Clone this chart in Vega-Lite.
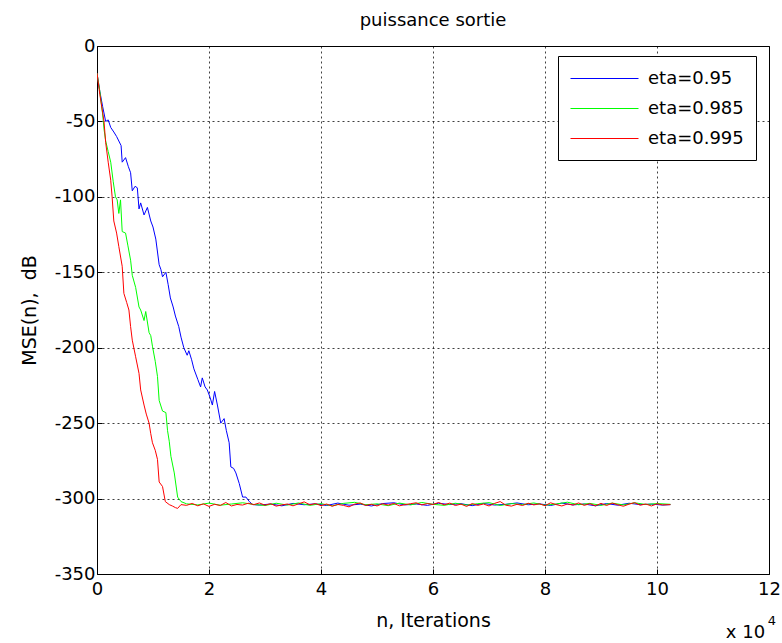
{
"$schema": "https://vega.github.io/schema/vega-lite/v6.json",
"width": 672, "height": 528,
"autosize": "none",
"padding": {"left": 97, "top": 46, "right": 13, "bottom": 69},
"background": "#ffffff",
"title": {"text": "puissance sortie", "fontSize": 18, "fontWeight": "normal", "font": "DejaVu Sans", "color": "#000", "offset": 7},
"config": {
  "font": "DejaVu Sans",
  "view": {"stroke": "#000", "strokeWidth": 1},
  "axis": {"labelFont": "DejaVu Sans", "labelFontSize": 18, "labelColor": "#000", "titleFont": "DejaVu Sans", "titleFontSize": 19, "titleFontWeight": "normal", "titleColor": "#000", "domainColor": "#000", "tickColor": "#000", "gridColor": "#000", "gridDash": [2, 3], "gridOpacity": 0.75, "gridWidth": 1}
},
"layer": [
{
"data": {"values": [
{"s":"eta=0.95","x":0,"y":-18},{"s":"eta=0.95","x":0.05,"y":-30},{"s":"eta=0.95","x":0.1,"y":-40},{"s":"eta=0.95","x":0.155,"y":-50},{"s":"eta=0.95","x":0.2,"y":-49},{"s":"eta=0.95","x":0.245,"y":-54},{"s":"eta=0.95","x":0.3,"y":-57},{"s":"eta=0.95","x":0.35,"y":-60},{"s":"eta=0.95","x":0.43,"y":-66},{"s":"eta=0.95","x":0.45,"y":-77},{"s":"eta=0.95","x":0.51,"y":-74},{"s":"eta=0.95","x":0.56,"y":-80},{"s":"eta=0.95","x":0.6,"y":-84},{"s":"eta=0.95","x":0.63,"y":-96},{"s":"eta=0.95","x":0.68,"y":-93},{"s":"eta=0.95","x":0.72,"y":-94},{"s":"eta=0.95","x":0.75,"y":-108},{"s":"eta=0.95","x":0.78,"y":-104},{"s":"eta=0.95","x":0.84,"y":-112},{"s":"eta=0.95","x":0.9,"y":-107},{"s":"eta=0.95","x":0.96,"y":-116},{"s":"eta=0.95","x":1.0,"y":-120},{"s":"eta=0.95","x":1.05,"y":-128},{"s":"eta=0.95","x":1.11,"y":-145},{"s":"eta=0.95","x":1.14,"y":-148},{"s":"eta=0.95","x":1.17,"y":-153},{"s":"eta=0.95","x":1.23,"y":-150},{"s":"eta=0.95","x":1.27,"y":-158},{"s":"eta=0.95","x":1.31,"y":-167},{"s":"eta=0.95","x":1.36,"y":-173},{"s":"eta=0.95","x":1.4,"y":-179},{"s":"eta=0.95","x":1.46,"y":-186},{"s":"eta=0.95","x":1.5,"y":-193},{"s":"eta=0.95","x":1.55,"y":-200},{"s":"eta=0.95","x":1.61,"y":-205},{"s":"eta=0.95","x":1.64,"y":-202},{"s":"eta=0.95","x":1.69,"y":-208},{"s":"eta=0.95","x":1.73,"y":-214},{"s":"eta=0.95","x":1.8,"y":-221},{"s":"eta=0.95","x":1.85,"y":-226},{"s":"eta=0.95","x":1.88,"y":-220},{"s":"eta=0.95","x":1.93,"y":-226},{"s":"eta=0.95","x":1.97,"y":-228},{"s":"eta=0.95","x":2.02,"y":-233},{"s":"eta=0.95","x":2.06,"y":-238},{"s":"eta=0.95","x":2.1,"y":-229},{"s":"eta=0.95","x":2.15,"y":-238},{"s":"eta=0.95","x":2.21,"y":-250},{"s":"eta=0.95","x":2.27,"y":-247},{"s":"eta=0.95","x":2.31,"y":-255},{"s":"eta=0.95","x":2.36,"y":-263},{"s":"eta=0.95","x":2.39,"y":-279},{"s":"eta=0.95","x":2.44,"y":-280},{"s":"eta=0.95","x":2.48,"y":-283},{"s":"eta=0.95","x":2.54,"y":-290},{"s":"eta=0.95","x":2.6,"y":-299},{"s":"eta=0.95","x":2.66,"y":-299},{"s":"eta=0.95","x":2.72,"y":-302},{"s":"eta=0.95","x":2.78,"y":-304},
{"s":"eta=0.95","x":2.9,"y":-304.3},{"s":"eta=0.95","x":3.1,"y":-303.6},{"s":"eta=0.95","x":3.3,"y":-304.8},{"s":"eta=0.95","x":3.5,"y":-303.2},{"s":"eta=0.95","x":3.7,"y":-304.1},{"s":"eta=0.95","x":3.9,"y":-303.5},{"s":"eta=0.95","x":4.1,"y":-304.6},{"s":"eta=0.95","x":4.3,"y":-303.0},{"s":"eta=0.95","x":4.5,"y":-304.4},{"s":"eta=0.95","x":4.7,"y":-303.7},{"s":"eta=0.95","x":4.9,"y":-304.9},{"s":"eta=0.95","x":5.1,"y":-303.3},{"s":"eta=0.95","x":5.3,"y":-302.8},{"s":"eta=0.95","x":5.5,"y":-304.2},{"s":"eta=0.95","x":5.7,"y":-303.6},{"s":"eta=0.95","x":5.9,"y":-304.5},{"s":"eta=0.95","x":6.1,"y":-303.1},{"s":"eta=0.95","x":6.3,"y":-304.0},{"s":"eta=0.95","x":6.5,"y":-303.4},{"s":"eta=0.95","x":6.7,"y":-304.7},{"s":"eta=0.95","x":6.9,"y":-303.2},{"s":"eta=0.95","x":7.1,"y":-304.3},{"s":"eta=0.95","x":7.3,"y":-303.8},{"s":"eta=0.95","x":7.5,"y":-302.9},{"s":"eta=0.95","x":7.7,"y":-304.1},{"s":"eta=0.95","x":7.9,"y":-303.5},{"s":"eta=0.95","x":8.1,"y":-304.6},{"s":"eta=0.95","x":8.3,"y":-303.0},{"s":"eta=0.95","x":8.5,"y":-304.2},{"s":"eta=0.95","x":8.7,"y":-303.6},{"s":"eta=0.95","x":8.9,"y":-304.8},{"s":"eta=0.95","x":9.1,"y":-303.3},{"s":"eta=0.95","x":9.3,"y":-304.4},{"s":"eta=0.95","x":9.5,"y":-303.1},{"s":"eta=0.95","x":9.7,"y":-304.0},{"s":"eta=0.95","x":9.9,"y":-303.7},{"s":"eta=0.95","x":10.1,"y":-304.3},{"s":"eta=0.95","x":10.24,"y":-304.0},
{"s":"eta=0.985","x":0,"y":-18},{"s":"eta=0.985","x":0.05,"y":-30},{"s":"eta=0.985","x":0.1,"y":-45},{"s":"eta=0.985","x":0.125,"y":-55},{"s":"eta=0.985","x":0.155,"y":-63},{"s":"eta=0.985","x":0.2,"y":-70},{"s":"eta=0.985","x":0.245,"y":-77},{"s":"eta=0.985","x":0.29,"y":-90},{"s":"eta=0.985","x":0.33,"y":-100},{"s":"eta=0.985","x":0.36,"y":-102},{"s":"eta=0.985","x":0.39,"y":-111},{"s":"eta=0.985","x":0.42,"y":-102},{"s":"eta=0.985","x":0.45,"y":-123},{"s":"eta=0.985","x":0.51,"y":-124},{"s":"eta=0.985","x":0.55,"y":-132},{"s":"eta=0.985","x":0.6,"y":-142},{"s":"eta=0.985","x":0.63,"y":-152},{"s":"eta=0.985","x":0.69,"y":-160},{"s":"eta=0.985","x":0.75,"y":-173},{"s":"eta=0.985","x":0.78,"y":-175},{"s":"eta=0.985","x":0.84,"y":-182},{"s":"eta=0.985","x":0.87,"y":-176},{"s":"eta=0.985","x":0.93,"y":-190},{"s":"eta=0.985","x":0.96,"y":-192},{"s":"eta=0.985","x":0.99,"y":-199},{"s":"eta=0.985","x":1.04,"y":-209},{"s":"eta=0.985","x":1.08,"y":-219},{"s":"eta=0.985","x":1.11,"y":-235},{"s":"eta=0.985","x":1.17,"y":-242},{"s":"eta=0.985","x":1.23,"y":-243},{"s":"eta=0.985","x":1.26,"y":-255},{"s":"eta=0.985","x":1.29,"y":-262},{"s":"eta=0.985","x":1.32,"y":-272},{"s":"eta=0.985","x":1.38,"y":-283},{"s":"eta=0.985","x":1.44,"y":-299},{"s":"eta=0.985","x":1.5,"y":-302},
{"s":"eta=0.985","x":1.6,"y":-303.5},{"s":"eta=0.985","x":1.8,"y":-304.2},{"s":"eta=0.985","x":2.0,"y":-303.0},{"s":"eta=0.985","x":2.2,"y":-304.4},{"s":"eta=0.985","x":2.4,"y":-303.6},{"s":"eta=0.985","x":2.6,"y":-302.8},{"s":"eta=0.985","x":2.8,"y":-303.9},{"s":"eta=0.985","x":3.0,"y":-304.6},{"s":"eta=0.985","x":3.2,"y":-303.1},{"s":"eta=0.985","x":3.4,"y":-304.3},{"s":"eta=0.985","x":3.6,"y":-302.9},{"s":"eta=0.985","x":3.8,"y":-304.5},{"s":"eta=0.985","x":4.0,"y":-303.4},{"s":"eta=0.985","x":4.2,"y":-304.8},{"s":"eta=0.985","x":4.4,"y":-303.2},{"s":"eta=0.985","x":4.6,"y":-302.5},{"s":"eta=0.985","x":4.8,"y":-304.1},{"s":"eta=0.985","x":5.0,"y":-303.5},{"s":"eta=0.985","x":5.2,"y":-304.7},{"s":"eta=0.985","x":5.4,"y":-303.0},{"s":"eta=0.985","x":5.6,"y":-304.2},{"s":"eta=0.985","x":5.8,"y":-302.6},{"s":"eta=0.985","x":6.0,"y":-303.8},{"s":"eta=0.985","x":6.2,"y":-304.5},{"s":"eta=0.985","x":6.4,"y":-303.1},{"s":"eta=0.985","x":6.6,"y":-304.3},{"s":"eta=0.985","x":6.8,"y":-303.4},{"s":"eta=0.985","x":7.0,"y":-302.7},{"s":"eta=0.985","x":7.2,"y":-304.6},{"s":"eta=0.985","x":7.4,"y":-303.3},{"s":"eta=0.985","x":7.6,"y":-304.0},{"s":"eta=0.985","x":7.8,"y":-302.9},{"s":"eta=0.985","x":8.0,"y":-304.4},{"s":"eta=0.985","x":8.2,"y":-303.6},{"s":"eta=0.985","x":8.4,"y":-302.4},{"s":"eta=0.985","x":8.6,"y":-304.1},{"s":"eta=0.985","x":8.8,"y":-303.2},{"s":"eta=0.985","x":9.0,"y":-304.5},{"s":"eta=0.985","x":9.2,"y":-303.0},{"s":"eta=0.985","x":9.4,"y":-304.2},{"s":"eta=0.985","x":9.6,"y":-302.8},{"s":"eta=0.985","x":9.8,"y":-303.9},{"s":"eta=0.985","x":10.0,"y":-303.3},{"s":"eta=0.985","x":10.24,"y":-303.8},
{"s":"eta=0.995","x":0,"y":-18},{"s":"eta=0.995","x":0.05,"y":-32},{"s":"eta=0.995","x":0.1,"y":-44},{"s":"eta=0.995","x":0.125,"y":-50},{"s":"eta=0.995","x":0.155,"y":-64},{"s":"eta=0.995","x":0.2,"y":-77},{"s":"eta=0.995","x":0.245,"y":-89},{"s":"eta=0.995","x":0.27,"y":-100},{"s":"eta=0.995","x":0.3,"y":-116},{"s":"eta=0.995","x":0.35,"y":-124},{"s":"eta=0.995","x":0.39,"y":-133},{"s":"eta=0.995","x":0.45,"y":-146},{"s":"eta=0.995","x":0.48,"y":-164},{"s":"eta=0.995","x":0.53,"y":-170},{"s":"eta=0.995","x":0.57,"y":-175},{"s":"eta=0.995","x":0.6,"y":-186},{"s":"eta=0.995","x":0.63,"y":-195},{"s":"eta=0.995","x":0.69,"y":-206},{"s":"eta=0.995","x":0.75,"y":-217},{"s":"eta=0.995","x":0.78,"y":-228},{"s":"eta=0.995","x":0.84,"y":-238},{"s":"eta=0.995","x":0.88,"y":-244},{"s":"eta=0.995","x":0.93,"y":-250},{"s":"eta=0.995","x":0.96,"y":-257},{"s":"eta=0.995","x":0.99,"y":-263},{"s":"eta=0.995","x":1.04,"y":-268},{"s":"eta=0.995","x":1.08,"y":-274},{"s":"eta=0.995","x":1.11,"y":-289},{"s":"eta=0.995","x":1.17,"y":-292},{"s":"eta=0.995","x":1.22,"y":-302},{"s":"eta=0.995","x":1.29,"y":-304},{"s":"eta=0.995","x":1.35,"y":-305},{"s":"eta=0.995","x":1.4,"y":-306},{"s":"eta=0.995","x":1.44,"y":-306.5},{"s":"eta=0.995","x":1.5,"y":-304},
{"s":"eta=0.995","x":1.6,"y":-304.5},{"s":"eta=0.995","x":1.7,"y":-303.2},{"s":"eta=0.995","x":1.8,"y":-304.8},{"s":"eta=0.995","x":1.9,"y":-303.5},{"s":"eta=0.995","x":2.0,"y":-305.2},{"s":"eta=0.995","x":2.1,"y":-303.8},{"s":"eta=0.995","x":2.2,"y":-304.6},{"s":"eta=0.995","x":2.3,"y":-302.6},{"s":"eta=0.995","x":2.4,"y":-304.9},{"s":"eta=0.995","x":2.5,"y":-303.9},{"s":"eta=0.995","x":2.6,"y":-304.3},{"s":"eta=0.995","x":2.7,"y":-303.1},{"s":"eta=0.995","x":2.8,"y":-304.0},{"s":"eta=0.995","x":2.9,"y":-302.9},{"s":"eta=0.995","x":3.0,"y":-304.4},{"s":"eta=0.995","x":3.1,"y":-303.4},{"s":"eta=0.995","x":3.2,"y":-305.0},{"s":"eta=0.995","x":3.3,"y":-304.2},{"s":"eta=0.995","x":3.4,"y":-303.6},{"s":"eta=0.995","x":3.5,"y":-304.8},{"s":"eta=0.995","x":3.6,"y":-303.5},{"s":"eta=0.995","x":3.7,"y":-302.2},{"s":"eta=0.995","x":3.8,"y":-304.1},{"s":"eta=0.995","x":3.9,"y":-303.3},{"s":"eta=0.995","x":4.0,"y":-304.7},{"s":"eta=0.995","x":4.1,"y":-303.6},{"s":"eta=0.995","x":4.2,"y":-305.1},{"s":"eta=0.995","x":4.3,"y":-303.9},{"s":"eta=0.995","x":4.4,"y":-304.5},{"s":"eta=0.995","x":4.5,"y":-305.5},{"s":"eta=0.995","x":4.6,"y":-303.7},{"s":"eta=0.995","x":4.7,"y":-302.9},{"s":"eta=0.995","x":4.8,"y":-304.6},{"s":"eta=0.995","x":4.9,"y":-303.8},{"s":"eta=0.995","x":5.0,"y":-304.9},{"s":"eta=0.995","x":5.1,"y":-303.4},{"s":"eta=0.995","x":5.2,"y":-304.3},{"s":"eta=0.995","x":5.3,"y":-303.2},{"s":"eta=0.995","x":5.4,"y":-304.8},{"s":"eta=0.995","x":5.5,"y":-304.0},{"s":"eta=0.995","x":5.6,"y":-303.4},{"s":"eta=0.995","x":5.7,"y":-302.8},{"s":"eta=0.995","x":5.8,"y":-304.2},{"s":"eta=0.995","x":5.9,"y":-303.3},{"s":"eta=0.995","x":6.0,"y":-303.9},{"s":"eta=0.995","x":6.1,"y":-302.6},{"s":"eta=0.995","x":6.2,"y":-304.1},{"s":"eta=0.995","x":6.3,"y":-303.0},{"s":"eta=0.995","x":6.4,"y":-304.6},{"s":"eta=0.995","x":6.5,"y":-303.7},{"s":"eta=0.995","x":6.6,"y":-305.2},{"s":"eta=0.995","x":6.7,"y":-303.3},{"s":"eta=0.995","x":6.8,"y":-304.5},{"s":"eta=0.995","x":6.9,"y":-303.6},{"s":"eta=0.995","x":7.0,"y":-304.9},{"s":"eta=0.995","x":7.1,"y":-303.2},{"s":"eta=0.995","x":7.2,"y":-302.0},{"s":"eta=0.995","x":7.3,"y":-304.4},{"s":"eta=0.995","x":7.4,"y":-305.0},{"s":"eta=0.995","x":7.5,"y":-303.8},{"s":"eta=0.995","x":7.6,"y":-304.6},{"s":"eta=0.995","x":7.7,"y":-303.1},{"s":"eta=0.995","x":7.8,"y":-304.2},{"s":"eta=0.995","x":7.9,"y":-303.5},{"s":"eta=0.995","x":8.0,"y":-304.7},{"s":"eta=0.995","x":8.1,"y":-302.8},{"s":"eta=0.995","x":8.2,"y":-304.0},{"s":"eta=0.995","x":8.3,"y":-304.9},{"s":"eta=0.995","x":8.4,"y":-303.6},{"s":"eta=0.995","x":8.5,"y":-304.3},{"s":"eta=0.995","x":8.6,"y":-302.9},{"s":"eta=0.995","x":8.7,"y":-304.5},{"s":"eta=0.995","x":8.8,"y":-303.4},{"s":"eta=0.995","x":8.9,"y":-304.8},{"s":"eta=0.995","x":9.0,"y":-303.2},{"s":"eta=0.995","x":9.1,"y":-304.6},{"s":"eta=0.995","x":9.2,"y":-303.0},{"s":"eta=0.995","x":9.3,"y":-304.1},{"s":"eta=0.995","x":9.4,"y":-305.1},{"s":"eta=0.995","x":9.5,"y":-303.7},{"s":"eta=0.995","x":9.6,"y":-302.7},{"s":"eta=0.995","x":9.7,"y":-304.4},{"s":"eta=0.995","x":9.8,"y":-303.6},{"s":"eta=0.995","x":9.9,"y":-304.9},{"s":"eta=0.995","x":10.0,"y":-303.5},{"s":"eta=0.995","x":10.1,"y":-304.2},{"s":"eta=0.995","x":10.24,"y":-304.0}
]},
"mark": {"type": "line", "strokeWidth": 1, "clip": true},
"encoding": {
  "x": {"field": "x", "type": "quantitative", "scale": {"domain": [0, 12], "nice": false, "zero": false},
        "axis": {"values": [0,2,4,6,8,10,12], "format": "d", "title": "n, Iterations", "grid": true, "ticks": true, "tickSize": -5, "labelPadding": 11, "titlePadding": 13, "labelFlush": false, "labelOverlap": false, "domain": false}},
  "y": {"field": "y", "type": "quantitative", "scale": {"domain": [-350, 0], "nice": false, "zero": false},
        "axis": {"values": [-350,-300,-250,-200,-150,-100,-50,0], "labelExpr": "'' + datum.value", "title": "MSE(n),\u00a0 dB", "grid": true, "ticks": true, "tickSize": -5, "labelPadding": 7, "titlePadding": 15, "labelFlush": false, "labelOverlap": false, "domain": false}},
  "color": {"field": "s", "type": "nominal",
            "scale": {"domain": ["eta=0.95", "eta=0.985", "eta=0.995"], "range": ["#0000ff", "#00ff00", "#ff0000"]},
            "legend": {"orient": "none", "legendX": 461, "legendY": 10, "title": null, "strokeColor": "#000", "fillColor": "#fff", "padding": 12, "symbolType": "M-1,0H5.8", "symbolSize": 400, "symbolStrokeWidth": 1, "labelFontSize": 18, "labelFont": "DejaVu Sans", "labelColor": "#000", "labelOffset": 57, "rowPadding": 10, "cornerRadius": 0}}
}
},
{
"data": {"values": [{"t": "x 10"}]},
"mark": {"type": "text", "fontSize": 18, "font": "DejaVu Sans", "color": "#000", "align": "center", "baseline": "middle"},
"encoding": {"x": {"datum": 11.58, "type": "quantitative"}, "y": {"datum": -389, "type": "quantitative"}, "text": {"field": "t"}}
},
{
"data": {"values": [{"t": "4"}]},
"mark": {"type": "text", "fontSize": 13, "font": "DejaVu Sans", "color": "#000", "align": "center", "baseline": "middle"},
"encoding": {"x": {"datum": 12.05, "type": "quantitative"}, "y": {"datum": -381, "type": "quantitative"}, "text": {"field": "t"}}
}
]
}
